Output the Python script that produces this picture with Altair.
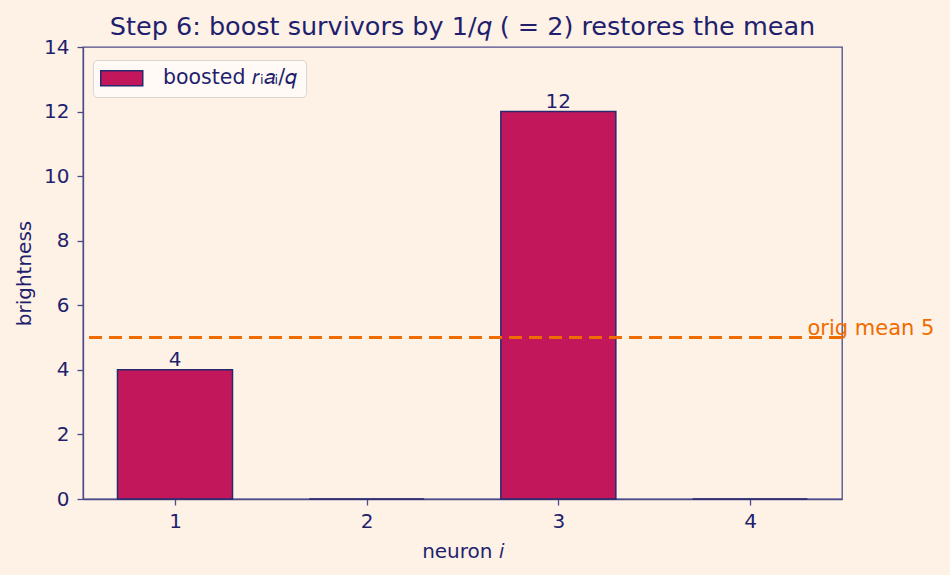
import altair as alt
import pandas as pd

neurons = [1, 2, 3, 4]
boosted = [4, 0, 12, 0]
bar_labels = ["4", "", "12", ""]
orig_mean = 5

NAVY = "#1f1f6e"
EDGE = "#28286e"
FRAME = "#4b4b8a"
BAR = "#c2185b"
ORANGE = "#ef6c00"
BG = "#fef1e6"
FONT = "DejaVu Sans"
FS = 20

df = pd.DataFrame({"neuron": neurons, "value": boosted, "label": bar_labels,
                   "series": ["boosted 𝑟ᵢ𝑎ᵢ/𝑞"] * 4})
mean_df = pd.DataFrame({"y": [orig_mean], "txt": ["orig mean 5"], "xpos": [4.30]})

x_scale = alt.Scale(domain=[0.52, 4.48], nice=False, zero=False)
y_scale = alt.Scale(domain=[0, 14], nice=False)

base = alt.Chart(df)

bars = base.transform_calculate(
    x0="datum.neuron - 0.3", x1="datum.neuron + 0.3"
).mark_bar(stroke=EDGE, strokeWidth=1.5).encode(
    x=alt.X("x0:Q", scale=x_scale,
            axis=alt.Axis(values=neurons, format="d", title="neuron 𝑖",
                          labelPadding=6, titlePadding=10)),
    x2="x1:Q",
    y=alt.Y("value:Q", scale=y_scale,
            axis=alt.Axis(values=list(range(0, 15, 2)), title="brightness",
                          labelPadding=8, titlePadding=9)),
    y2=alt.datum(0),
    color=alt.Color("series:N", scale=alt.Scale(range=[BAR]),
                    legend=alt.Legend(title=None, orient="none", legendX=10, legendY=13,
                                      symbolType="M-2.8,-1H2.8V1H-2.8Z", symbolSize=225,
                                      symbolOffset=10.5,
                                      symbolStrokeColor=EDGE, symbolStrokeWidth=1.5,
                                      labelFontSize=20.5, labelColor=NAVY, labelFont=FONT,
                                      fillColor="#fffaf5", strokeColor="#dcd6d0",
                                      padding=8, cornerRadius=4, labelOffset=31)),
)

labels = base.mark_text(baseline="alphabetic", dy=-4, fontSize=FS, color=NAVY, font=FONT).encode(
    x=alt.X("neuron:Q", scale=x_scale),
    y=alt.Y("value:Q", scale=y_scale),
    text="label:N",
)

mean_rule = alt.Chart(mean_df).mark_rule(color=ORANGE, strokeWidth=3, strokeDash=[13, 7]).encode(
    y=alt.Y("y:Q", scale=y_scale),
)
mean_text = alt.Chart(mean_df).mark_text(align="left", baseline="alphabetic", dy=-3, fontSize=21,
                                         color=ORANGE, font=FONT).encode(
    x=alt.X("xpos:Q", scale=x_scale),
    y=alt.Y("y:Q", scale=y_scale),
    text="txt:N",
)

chart = alt.layer(bars, mean_rule, labels, mean_text).properties(
    width=759, height=452,
    background=BG,
    padding={"left": 83, "top": 47, "right": 108, "bottom": 76},
    autosize=alt.AutoSizeParams(type="none"),
    title=alt.TitleParams("Step 6: boost survivors by 1/𝑞 ( = 2) restores the mean",
                          fontSize=25.5, font=FONT, color=NAVY, fontWeight="normal", offset=-3),
).configure_view(
    stroke=FRAME, strokeWidth=1.3, fill=BG
).configure_axis(
    grid=False, domainColor=FRAME, tickColor=FRAME, labelColor=NAVY, titleColor=NAVY,
    labelFont=FONT, titleFont=FONT, labelFontSize=FS, titleFontSize=FS,
    titleFontWeight="normal", tickSize=6, domainWidth=1.3, tickWidth=1.3,
)

chart.save("out.html", embed_options={"renderer": "svg", "actions": False})
